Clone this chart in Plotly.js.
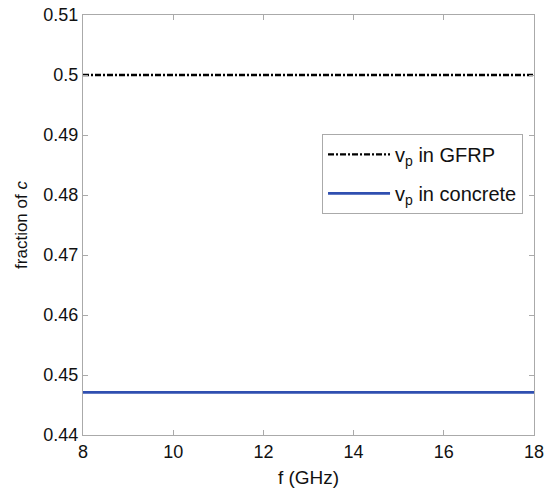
<!DOCTYPE html>
<html>
<head>
<meta charset="utf-8">
<script src="https://cdn.plot.ly/plotly-3.0.1.min.js"></script>
<style>html,body{margin:0;padding:0;background:#fff;}#chart{width:544px;height:493px;}</style>
</head>
<body>
<div id="chart"></div>
<script>
var freq = [8, 18];
var gfrp = [0.5, 0.5];
var concrete = [0.4471, 0.4471];
var xTicks = [8, 10, 12, 14, 16, 18];
var yTicks = [0.44, 0.45, 0.46, 0.47, 0.48, 0.49, 0.5, 0.51];
var yTickText = ['0.44', '0.45', '0.46', '0.47', '0.48', '0.49', '0.5', '0.51'];

var FONT = 'Liberation Sans, Arial, sans-serif';
var traces = [
  {x: freq, y: gfrp, mode: 'lines', name: 'v<sub>p</sub> in GFRP', legendgroup: 'a',
   line: {color: '#000000', width: 2.4, dash: '6px,2px,2px,2px'}},
  {x: freq, y: concrete, mode: 'lines', name: 'v<sub>p</sub> in concrete', legendgroup: 'b',
   line: {color: '#2f4fb0', width: 2.6}}
];
var axisCommon = {
  showgrid: false, zeroline: false, showline: true, linecolor: '#aaaaaa', linewidth: 1,
  mirror: 'ticks', ticks: 'inside', ticklen: 5, tickcolor: '#aaaaaa',
  ticklabeloverflow: 'allow',
  tickfont: {family: FONT, size: 18, color: '#111'}
};
var layout = {
  width: 544, height: 493,
  margin: {l: 83, r: 10, t: 15, b: 58},
  paper_bgcolor: '#fff', plot_bgcolor: '#fff',
  showlegend: true,
  font: {family: FONT, color: '#111'},
  xaxis: Object.assign({}, axisCommon, {range: [8, 18], tickvals: xTicks,
    title: {text: 'f (GHz)', standoff: 10, font: {family: FONT, size: 19, color: '#111'}}}),
  yaxis: Object.assign({}, axisCommon, {range: [0.44, 0.51], tickvals: yTicks, ticktext: yTickText,
    title: {text: 'fraction of <i>c</i>', standoff: 11, font: {family: FONT, size: 17, color: '#111'}}}),
  legend: {x: 0.53, y: 0.717, xanchor: 'left', yanchor: 'top', bgcolor: '#fff',
    bordercolor: '#aaaaaa', borderwidth: 1, itemwidth: 62, traceorder: 'grouped', tracegroupgap: 10,
    font: {family: FONT, size: 20, color: '#111'}}
};
Plotly.newPlot('chart', traces, layout, {displayModeBar: false, staticPlot: true});
</script>
</body>
</html>
